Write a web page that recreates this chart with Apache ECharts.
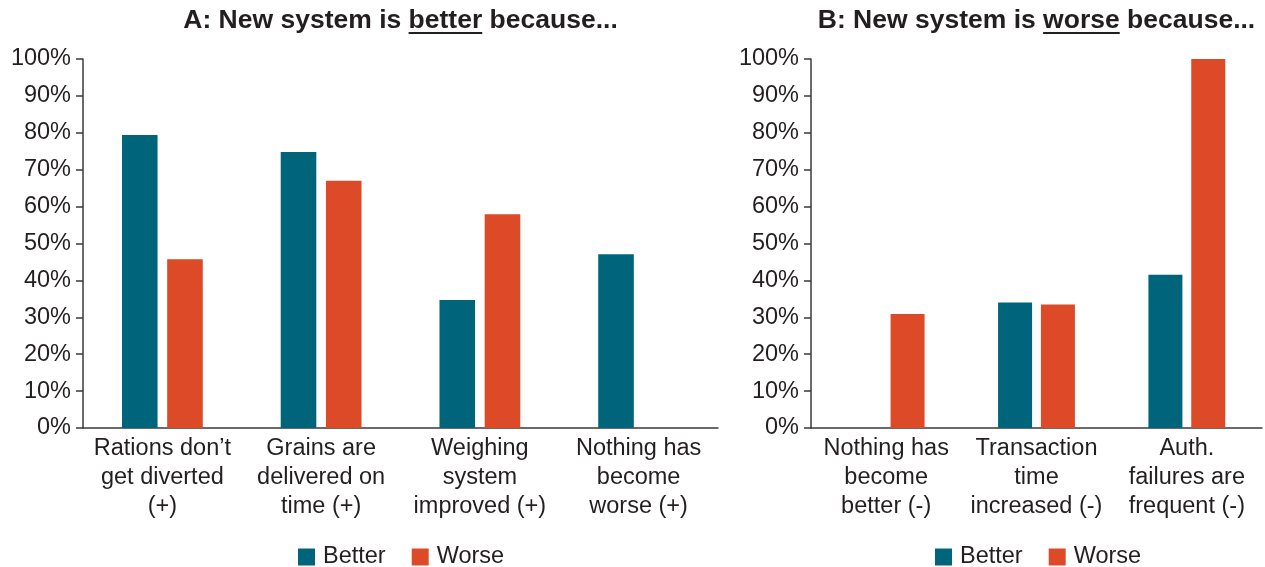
<!DOCTYPE html>
<html>
<head>
<meta charset="utf-8">
<script src="https://cdn.jsdelivr.net/npm/echarts@6/dist/echarts.min.js"></script>
<style>
  html, body { margin: 0; padding: 0; background: #fff; }
  #chart { width: 1265px; height: 567px; }
</style>
</head>
<body>
<div id="chart"></div>
<script>
// Panel A: reasons given that the new system is better
const catsA = ['Rations don\u2019t\nget diverted\n(+)', 'Grains are\ndelivered on\ntime (+)', 'Weighing\nsystem\nimproved (+)', 'Nothing has\nbecome\nworse (+)'];
const betterA = [79.4, 74.8, 34.7, 47.1];
const worseA = [45.7, 67.0, 57.9, null];

// Panel B: reasons given that the new system is worse
const catsB = ['Nothing has\nbecome\nbetter (-)', 'Transaction\ntime\nincreased (-)', 'Auth.\nfailures are\nfrequent (-)'];
const betterB = [null, 34.0, 41.5];
const worseB = [30.9, 33.5, 100];

const seriesNames = ['Better', 'Worse'];
const titleA = ['A: New system is ', 'better', ' because...'];
const titleB = ['B: New system is ', 'worse', ' because...'];

const TEAL = '#00657b';
const ORANGE = '#dd4a28';
const INK = '#231f20';
const FONT = '"Liberation Sans", Arial, sans-serif';

const chart = echarts.init(document.getElementById('chart'), null, { renderer: 'canvas' });

const gridA = { left: 83, right: 547, top: 59, bottom: 139 };
const gridB = { left: 811, right: 3, top: 59, bottom: 139 };

function yAxis(gridIndex) {
  return {
    type: 'value', gridIndex, min: 0, max: 100, interval: 10,
    splitLine: { show: false },
    axisLine: { show: true, lineStyle: { color: '#3a3a3a', width: 1.5 } },
    axisTick: { show: true, length: 7, lineStyle: { color: '#3a3a3a', width: 1.5 } },
    axisLabel: { formatter: '{value}%', color: INK, fontSize: 23.5, fontFamily: FONT, margin: 12 }
  };
}
function xAxis(gridIndex, data) {
  return {
    type: 'category', gridIndex, data,
    axisLine: { lineStyle: { color: '#3a3a3a', width: 1.5 } },
    axisTick: { show: false },
    axisLabel: { interval: 0, color: INK, fontSize: 23.5, fontFamily: FONT, lineHeight: 29, margin: 6 }
  };
}
function bar(name, data, idx, color, width, gap) {
  return {
    name, type: 'bar', data, xAxisIndex: idx, yAxisIndex: idx,
    barWidth: width, barGap: gap,
    itemStyle: { color },
    emphasis: { disabled: true }
  };
}
function legend(left) {
  return {
    data: seriesNames, left, top: 545, padding: 0, itemWidth: 17, itemHeight: 17, itemGap: 26,
    icon: 'rect',
    textStyle: { color: INK, fontSize: 23.5, fontFamily: FONT, padding: [0, 0, 0, 3] }
  };
}

// Title with one underlined word, centred over its plot
const ctx = document.createElement('canvas').getContext('2d');
const titleFont = 'bold 26.5px ' + FONT;
ctx.font = titleFont;
function titleGraphics(parts, cx, y) {
  const full = parts.join('');
  const w = ctx.measureText(full).width;
  const start = cx - w / 2;
  const pre = ctx.measureText(parts[0]).width;
  const word = ctx.measureText(parts[1]).width;
  return [
    { type: 'text', x: cx, y, style: { text: full, font: titleFont, fill: INK, align: 'center', verticalAlign: 'middle' } },
    { type: 'line', shape: { x1: start + pre, y1: y + 12, x2: start + pre + word, y2: y + 12 }, style: { stroke: INK, lineWidth: 2 } }
  ];
}

chart.setOption({
  animation: false,
  textStyle: { fontFamily: FONT },
  grid: [gridA, gridB],
  xAxis: [xAxis(0, catsA), xAxis(1, catsB)],
  yAxis: [yAxis(0), yAxis(1)],
  legend: [legend(298), legend(935)],
  series: [
    bar('Better', betterA, 0, TEAL, 35.6, '27%'),
    bar('Worse', worseA, 0, ORANGE, 35.6, '27%'),
    bar('Better', betterB, 1, TEAL, 34, '26%'),
    bar('Worse', worseB, 1, ORANGE, 34, '26%')
  ],
  graphic: [
    ...titleGraphics(titleA, 400.5, 21),
    ...titleGraphics(titleB, 1036.5, 21)
  ]
});
</script>
</body>
</html>
